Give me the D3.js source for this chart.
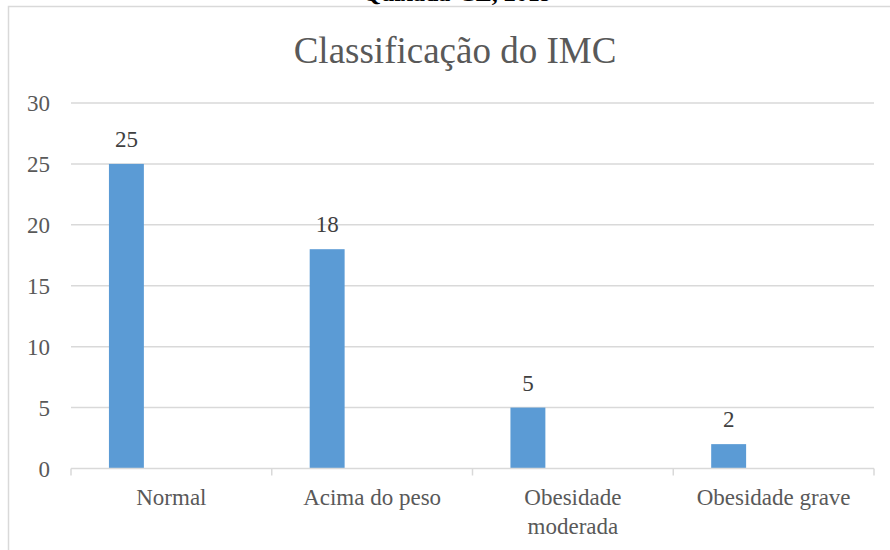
<!DOCTYPE html>
<html>
<head>
<meta charset="utf-8">
<script src="https://cdn.jsdelivr.net/npm/d3@7/dist/d3.min.js"></script>
<style>
  html, body { margin: 0; padding: 0; background: #fff; }
  svg { display: block; }
</style>
</head>
<body>
<svg id="chart" width="890" height="550"></svg>
<script>
const categories = [["Normal"], ["Acima do peso"], ["Obesidade", "moderada"], ["Obesidade grave"]];
const categoryKeys = ["Normal", "Acima do peso", "Obesidade moderada", "Obesidade grave"];
const values = [25, 18, 5, 2];
const yTicks = [0, 5, 10, 15, 20, 25, 30];
const titleText = "Classificação do IMC";
const clippedCaption = "Quixadá-CE, 2019";

(function () {
const FONT = "Liberation Serif";
const svg = d3.select("#chart").attr("font-family", FONT);
const textColor = "#595959";
const gridColor = "#d9d9d9";
const barColor = "#5b9bd5";

const mLeft = 71, mRight = 874, mTop = 103, mBottom = 468.5;

// caption, mostly cut off above the chart frame as in the reference
svg.append("text")
  .attr("x", 457).attr("y", 1)
  .attr("text-anchor", "middle")
  .attr("font-family", FONT)
  .attr("font-size", 24).attr("font-weight", "bold")
  .attr("fill", "#000")
  .text(clippedCaption);

// chart frame
svg.append("rect")
  .attr("x", 8.5).attr("y", 6.5)
  .attr("width", 900).attr("height", 600)
  .attr("fill", "#fff")
  .attr("stroke", gridColor).attr("stroke-width", 1.5);

const x = d3.scaleBand().domain(categoryKeys).range([mLeft, mRight]).paddingInner(0).paddingOuter(0);
const y = d3.scaleLinear().domain([0, 30]).range([mBottom, mTop]);

// gridlines
svg.append("g").selectAll("line")
  .data(yTicks.filter(d => d !== 0))
  .join("line")
  .attr("x1", mLeft).attr("x2", mRight)
  .attr("y1", d => y(d)).attr("y2", d => y(d))
  .attr("stroke", gridColor).attr("stroke-width", 1.5);

// y axis labels
const yAxis = d3.axisLeft(y).tickValues(yTicks).tickSize(0).tickPadding(21);
const gy = svg.append("g").attr("transform", `translate(${mLeft},0)`).call(yAxis);
gy.attr("font-family", FONT);
gy.select(".domain").remove();
gy.selectAll("text")
  .attr("font-size", 23).attr("fill", textColor).attr("dy", "0.33em");

// bars
const bw = x.bandwidth();
svg.append("g").selectAll("rect")
  .data(values)
  .join("rect")
  .attr("x", (d, i) => x(categoryKeys[i]) + bw * 0.189)
  .attr("width", bw * 0.174)
  .attr("y", d => y(d))
  .attr("height", d => y(0) - y(d))
  .attr("fill", barColor);

// value labels
svg.append("g").selectAll("text")
  .data(values)
  .join("text")
  .attr("x", (d, i) => x(categoryKeys[i]) + bw * 0.189 + bw * 0.087)
  .attr("y", d => y(d) - 17)
  .attr("text-anchor", "middle")
  .attr("font-family", FONT)
  .attr("font-size", 23).attr("fill", "#404040")
  .text(d => d);

// x axis line and separators
const xAxis = d3.axisBottom(x).tickSize(0).tickFormat("");
const gx = svg.append("g").attr("transform", `translate(0,${mBottom})`).call(xAxis);
gx.select(".domain").attr("stroke", gridColor).attr("stroke-width", 1.5)
  .attr("d", `M${mLeft},0H${mRight}`);
gx.selectAll(".tick").remove();
const boundaries = categoryKeys.map(k => x(k)).concat([mRight]);
gx.selectAll("line.sep").data(boundaries).join("line")
  .attr("class", "sep")
  .attr("x1", d => d).attr("x2", d => d)
  .attr("y1", 0).attr("y2", 7)
  .attr("stroke", gridColor).attr("stroke-width", 1.5);

// category labels
const labels = svg.append("g").selectAll("text")
  .data(categories)
  .join("text")
  .attr("x", (d, i) => x(categoryKeys[i]) + bw / 2)
  .attr("y", 505)
  .attr("text-anchor", "middle")
  .attr("font-family", FONT)
  .attr("font-size", 23).attr("fill", textColor);
labels.selectAll("tspan")
  .data(d => d)
  .join("tspan")
  .attr("x", function() { return d3.select(this.parentNode).attr("x"); })
  .attr("dy", (d, i) => i === 0 ? 0 : 29)
  .text(d => d);

// title
svg.append("text")
  .attr("x", 455).attr("y", 63)
  .attr("text-anchor", "middle")
  .attr("font-family", FONT)
  .attr("font-size", 37).attr("fill", textColor)
  .text(titleText);
})();
</script>
</body>
</html>
